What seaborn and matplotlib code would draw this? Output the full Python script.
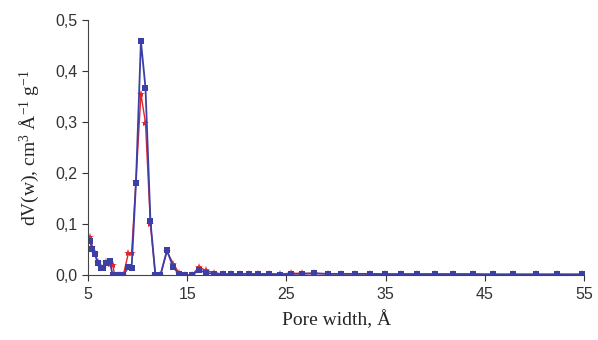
import matplotlib
matplotlib.use("Agg")
import matplotlib.pyplot as plt
import seaborn as sns
import pandas as pd
from matplotlib.ticker import FuncFormatter

# pore width (A) and dV(w) values
width = [5.2, 5.43, 5.7, 6.0, 6.28, 6.55, 6.85, 7.2, 7.5, 7.7, 8.0, 8.25, 8.56,
         9.07, 9.4, 9.84, 10.34, 10.8, 11.3, 11.8, 12.3, 12.96, 13.6, 14.2,
         14.8, 15.5, 16.16, 16.9, 17.7, 18.6, 19.4, 20.3, 21.2, 22.1, 23.2,
         24.4, 25.5, 26.6, 27.8, 29.2, 30.5, 31.9, 33.4, 34.9, 36.5, 38.2,
         40.0, 41.8, 43.8, 45.8, 47.8, 50.1, 52.3, 54.8]
blue = [0.067, 0.052, 0.041, 0.025, 0.014, 0.014, 0.025, 0.028, 0.0, 0.0, 0.0,
        0.0, 0.0, 0.016, 0.014, 0.181, 0.459, 0.368, 0.106, 0.0, 0.0, 0.049,
        0.016, 0.002, 0.0, 0.0, 0.011, 0.005, 0.003, 0.002, 0.002, 0.003,
        0.003, 0.002, 0.003, 0.001, 0.003, 0.003, 0.004, 0.003, 0.003, 0.003,
        0.003, 0.002, 0.002, 0.002, 0.002, 0.002, 0.002, 0.002, 0.002, 0.002,
        0.002, 0.002]
red = [0.075, 0.055, 0.043, 0.027, 0.016, 0.015, 0.026, 0.022, 0.021, 0.0, 0.0,
       0.0, 0.0, 0.043, 0.043, 0.185, 0.356, 0.299, 0.100, 0.0, 0.0, 0.047,
       0.023, 0.004, 0.0, 0.001, 0.016, 0.010, 0.005, 0.003, 0.003, 0.003,
       0.003, 0.003, 0.003, 0.003, 0.004, 0.004, 0.004, 0.003, 0.003, 0.003,
       0.003, 0.003, 0.003, 0.003, 0.003, 0.003, 0.003, 0.002, 0.002, 0.002,
       0.002, 0.002]

df = pd.DataFrame({"w": width, "red": red, "blue": blue})

sns.set_style("ticks")
plt.rcParams["font.family"] = ["Liberation Sans", "DejaVu Sans"]
plt.rcParams["mathtext.fontset"] = "custom"
plt.rcParams["mathtext.rm"] = "Liberation Serif"
plt.rcParams["mathtext.it"] = "Liberation Serif"

fig, ax = plt.subplots(figsize=(5.98, 3.4), dpi=100)
fig.subplots_adjust(left=0.147, right=0.977, top=0.94, bottom=0.19)

sns.lineplot(data=df, x="w", y="red", ax=ax, color="#e3242b", lw=1.0,
             marker="*", markersize=6, markeredgewidth=0)
sns.lineplot(data=df, x="w", y="blue", ax=ax, color="#3b3fa6", lw=1.3,
             marker="s", markersize=4.5, markeredgewidth=0)

ax.set_xlim(5, 55)
ax.set_ylim(0, 0.5)
ax.set_xticks([5, 15, 25, 35, 45, 55])
ax.set_yticks([0, 0.1, 0.2, 0.3, 0.4, 0.5])
ax.yaxis.set_major_formatter(FuncFormatter(lambda v, p: f"{v:.1f}".replace(".", ",")))
ax.tick_params(labelsize=11.5, length=4, width=0.8, colors="#333333")
ax.tick_params(axis="x", pad=4)
for s in ["left", "bottom"]:
    ax.spines[s].set_color("#444444")
sns.despine(ax=ax)

ax.set_xlabel("Pore width, Å", family="Liberation Serif", fontsize=14, labelpad=6)
ax.set_ylabel(r"dV(w), cm$^{3}$ Å$^{-1}$ g$^{-1}$", family="Liberation Serif",
              fontsize=14, labelpad=10)

fig.savefig("out.png")
